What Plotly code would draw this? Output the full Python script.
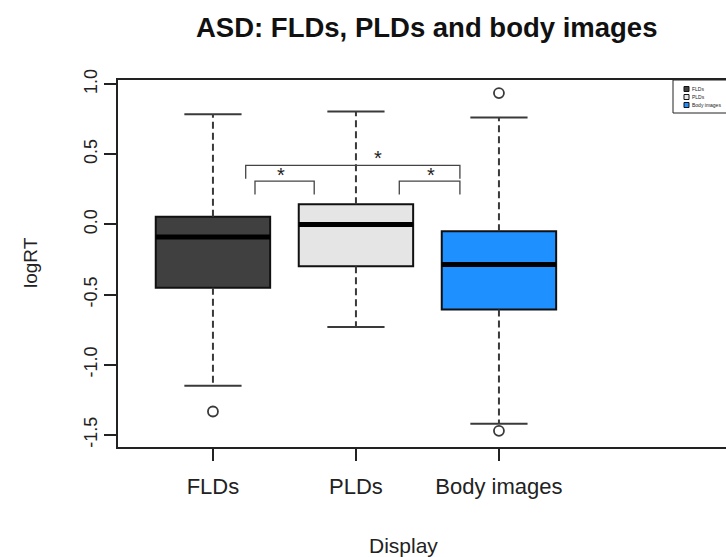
import plotly.graph_objects as go

# ---------------- data ----------------
categories = ["FLDs", "PLDs", "Body images"]
positions = [1, 2, 3]
q1 = [-0.452, -0.298, -0.607]
medians = [-0.090, 0.000, -0.286]
q3 = [0.055, 0.143, -0.048]
lower_whisker = [-1.150, -0.731, -1.421]
upper_whisker = [0.785, 0.805, 0.762]
outliers = [[-1.333], [], [0.936, -1.471]]
fill_colors = ["#404040", "#E5E5E5", "#1E90FF"]

y_ticks = [-1.5, -1.0, -0.5, 0.0, 0.5, 1.0]
y_ticktext = ["-1.5", "-1.0", "-0.5", "0.0", "0.5", "1.0"]

# significance brackets: (x_left, x_right, y_bar, y_left_end, y_right_end, star_x, star_y)
brackets = [
    (1.229, 2.727, 0.421, 0.325, 0.325, 2.156, 0.475),
    (1.294, 1.708, 0.309, 0.214, 0.214, 1.476, 0.35),
    (2.303, 2.727, 0.309, 0.214, 0.214, 2.524, 0.35),
]

FONT = "Liberation Sans, Arial, sans-serif"
BOXW = 0.8
STAPLE = 0.4
WCOL = "#3a3a3a"

fig = go.Figure()

# boxes (no whiskers; drawn separately as dashed lines like R)
for i, cat in enumerate(categories):
    fig.add_trace(go.Box(
        x=[positions[i]], q1=[q1[i]], median=[medians[i]], q3=[q3[i]],
        lowerfence=[q1[i]], upperfence=[q3[i]],
        width=BOXW, whiskerwidth=0,
        fillcolor=fill_colors[i], line=dict(color="#111111", width=2),
        boxpoints=False, showlegend=False, hoverinfo="skip", name=cat,
    ))

for i in range(len(categories)):
    x = positions[i]
    # dashed whiskers
    fig.add_trace(go.Scatter(x=[x, x], y=[q3[i], upper_whisker[i]], mode="lines",
                             line=dict(color=WCOL, width=2, dash="7px,4px"),
                             showlegend=False, hoverinfo="skip"))
    fig.add_trace(go.Scatter(x=[x, x], y=[q1[i], lower_whisker[i]], mode="lines",
                             line=dict(color=WCOL, width=2, dash="7px,4px"),
                             showlegend=False, hoverinfo="skip"))
    # staples
    for yv in (upper_whisker[i], lower_whisker[i]):
        fig.add_trace(go.Scatter(x=[x - STAPLE / 2, x + STAPLE / 2], y=[yv, yv], mode="lines",
                                 line=dict(color=WCOL, width=2),
                                 showlegend=False, hoverinfo="skip"))
    # thick median
    fig.add_trace(go.Scatter(x=[x - BOXW / 2, x + BOXW / 2], y=[medians[i], medians[i]], mode="lines",
                             line=dict(color="#000000", width=5),
                             showlegend=False, hoverinfo="skip"))
    # outliers
    if outliers[i]:
        fig.add_trace(go.Scatter(x=[x] * len(outliers[i]), y=outliers[i], mode="markers",
                                 marker=dict(symbol="circle-open", size=10, color=WCOL,
                                             line=dict(width=1.8, color=WCOL)),
                                 showlegend=False, hoverinfo="skip", cliponaxis=False))

# significance brackets
annotations = []
for (xl, xr, yb, yle, yre, sx, sy) in brackets:
    fig.add_trace(go.Scatter(x=[xl, xl, xr, xr], y=[yle, yb, yb, yre], mode="lines",
                             line=dict(color="#444444", width=1.3),
                             showlegend=False, hoverinfo="skip"))
    annotations.append(dict(x=sx, y=sy, xref="x", yref="y", text="*", showarrow=False,
                            font=dict(family=FONT, size=20, color="#222222")))

# layout geometry (pixels)
W, H = 726, 557
L, T, B = 118, 80, 110
plot_w = W - L
plot_h = H - T - B


def px(xp):
    return (xp - L) / plot_w


def py(yp):
    return (H - B - yp) / plot_h


# titles
annotations.append(dict(x=px(426.5), y=py(28), xref="paper", yref="paper",
                        text="<b>ASD: FLDs, PLDs and body images</b>", showarrow=False,
                        font=dict(family=FONT, size=27.5, color="#111111"),
                        xanchor="center", yanchor="middle"))
annotations.append(dict(x=px(403), y=py(545), xref="paper", yref="paper",
                        text="Display", showarrow=False,
                        font=dict(family=FONT, size=21, color="#222222"),
                        xanchor="center", yanchor="middle"))
annotations.append(dict(x=px(30), y=py(263), xref="paper", yref="paper",
                        text="logRT", showarrow=False, textangle=-90,
                        font=dict(family=FONT, size=19, color="#222222"),
                        xanchor="center", yanchor="middle"))

# legend (top right corner of the plot box)
legend_labels = categories
shapes = [dict(type="rect", xref="paper", yref="paper",
               x0=px(673), x1=px(760), y0=py(113), y1=py(80),
               line=dict(color="#222222", width=1), fillcolor="white", layer="above")]
leg_y = [89, 97, 105]
for i, lab in enumerate(legend_labels):
    shapes.append(dict(type="rect", xref="paper", yref="paper",
                       x0=px(684), x1=px(689), y0=py(leg_y[i] + 2.5), y1=py(leg_y[i] - 2.5),
                       line=dict(color="#111111", width=1), fillcolor=fill_colors[i], layer="above"))
    annotations.append(dict(x=px(691), y=py(leg_y[i]), xref="paper", yref="paper",
                            text=lab, showarrow=False, xanchor="left", yanchor="middle",
                            borderpad=0,
                            font=dict(family=FONT, size=5, color="#222222")))

fig.update_layout(
    width=W, height=H,
    margin=dict(l=L, r=0, t=T, b=B),
    paper_bgcolor="white", plot_bgcolor="white",
    showlegend=False,
    annotations=annotations,
    shapes=shapes,
    xaxis=dict(range=[0.336, 0.336 + plot_w / 143.0], tickvals=positions, ticktext=categories,
               showgrid=False, zeroline=False, showline=True, linecolor="#222222", linewidth=1.5,
               mirror=True, ticks="outside", ticklen=12, tickwidth=1.5, tickcolor="#222222",
               ticklabelstandoff=7,
               tickfont=dict(family=FONT, size=22, color="#222222")),
    yaxis=dict(range=[-1.586, 1.029], tickvals=y_ticks, ticktext=y_ticktext,
               showgrid=False, zeroline=False, showline=True, linecolor="#222222", linewidth=1.5,
               mirror=False, ticks="outside", ticklen=12, tickwidth=1.5, tickcolor="#222222",
               tickangle=-90, tickfont=dict(family=FONT, size=18, color="#222222")),
)

fig.write_html("out.html")
